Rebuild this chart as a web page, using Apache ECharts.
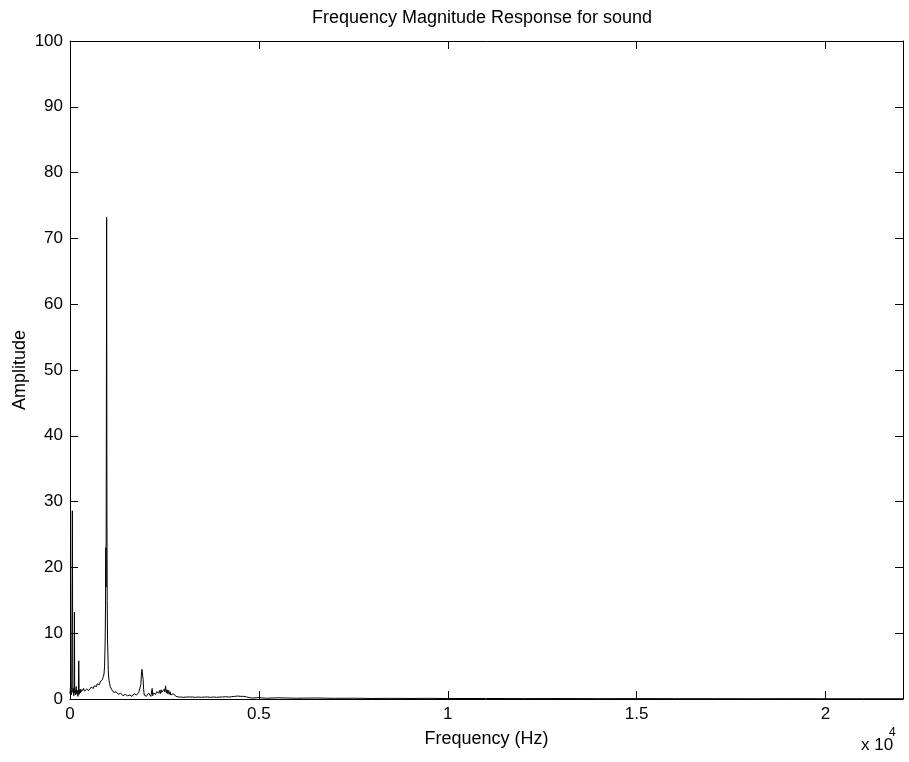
<!DOCTYPE html>
<html>
<head>
<meta charset="utf-8">
<script src="https://cdn.jsdelivr.net/npm/echarts@6/dist/echarts.min.js"></script>
<style>
html,body{margin:0;padding:0;background:#fff;}
#chart{width:909px;height:762px;}
</style>
</head>
<body>
<div id="chart"></div>
<script>
var titleText = 'Frequency Magnitude Response for sound';
var xName = 'Frequency (Hz)';
var yName = 'Amplitude';
var xTickValues = [0, 5000, 10000, 15000, 20000];
var xTickLabels = ['0', '0.5', '1', '1.5', '2'];

var freqHz = [0,15,30,45,62,75,88,100,112,118,124,135,150,165,180,195,210,222,232,242,255,270,285,300,320,340,360,380,400,420,440,460,480,500,520,540,560,580,600,620,640,660,680,700,720,740,760,780,800,820,840,860,880,900,915,930,940,948,955,962,970,977,985,993,1002,1012,1022,1035,1050,1065,1080,1095,1110,1125,1140,1160,1180,1200,1220,1240,1260,1280,1300,1320,1340,1360,1380,1400,1420,1440,1460,1480,1500,1520,1540,1560,1580,1600,1620,1640,1660,1680,1700,1720,1740,1760,1780,1800,1820,1840,1860,1875,1890,1905,1920,1935,1950,1965,1980,2000,2020,2040,2060,2080,2100,2120,2140,2160,2175,2190,2210,2230,2250,2270,2290,2310,2330,2350,2370,2390,2410,2430,2450,2470,2490,2510,2530,2550,2570,2590,2610,2630,2650,2670,2690,2710,2730,2750,2780,2810,2840,2870,2900,2930,2960,3000,3040,3080,3120,3160,3200,3240,3280,3320,3360,3400,3440,3480,3520,3560,3600,3640,3680,3720,3760,3800,3840,3880,3920,3960,4000,4040,4080,4120,4160,4200,4240,4280,4320,4360,4400,4440,4480,4520,4560,4600,4640,4680,4720,4800,5000,5200,5500,6000,6500,7000,7500,8000,8500,9000,9500,10000,11000,12000,13000,14000,15000,16000,17000,18000,19000,20000,21000,22050];

var amplitude = [0.8,1.9,0.6,1.2,28.6,1.0,1.6,0.5,2.0,13.2,0.9,1.4,0.6,1.9,0.8,1.3,0.4,1.0,5.8,0.7,1.4,0.9,1.5,1.1,1.4,1.0,1.6,1.2,1.3,1.1,1.5,1.2,1.6,1.3,1.5,1.4,1.8,1.5,1.7,1.6,2.0,1.7,2.1,1.9,2.3,2.0,2.4,2.2,2.6,2.5,2.9,3.0,3.4,3.8,5.0,8.5,14,23,17,40,73.2,30,15,9,7.3,4.5,3.5,2.8,2.3,1.9,1.7,1.5,1.6,1.2,1.3,1.0,1.2,0.9,1.1,0.8,1.0,0.7,0.9,0.6,0.9,0.6,0.8,0.5,0.8,0.5,0.7,0.4,0.7,0.5,0.8,0.4,0.6,0.5,0.7,0.4,0.6,0.5,0.8,0.5,0.7,0.6,0.9,0.7,1.0,0.9,1.3,2.2,3.8,4.5,4.3,3.0,1.4,0.6,0.3,0.9,0.4,0.7,0.5,0.9,0.6,0.8,0.4,0.7,1.6,0.5,0.9,0.6,1.0,0.7,1.1,0.8,1.2,0.9,1.3,0.8,1.4,1.0,1.3,0.9,1.5,1.1,2.0,0.9,1.4,0.8,1.3,0.7,1.1,0.6,0.9,0.5,0.8,0.5,0.7,0.4,0.6,0.3,0.5,0.3,0.4,0.25,0.5,0.3,0.45,0.3,0.5,0.3,0.4,0.25,0.45,0.3,0.4,0.25,0.4,0.3,0.45,0.3,0.4,0.25,0.4,0.3,0.35,0.25,0.35,0.3,0.4,0.3,0.5,0.35,0.4,0.3,0.45,0.35,0.55,0.4,0.6,0.45,0.65,0.4,0.6,0.4,0.55,0.3,0.2,0.15,0.2,0.12,0.18,0.12,0.15,0.1,0.12,0.08,0.1,0.08,0.1,0.07,0.08,0.06,0.07,0.05,0.06,0.05,0.05,0.04,0.05,0.04,0.04,0.04];

var seriesData = freqHz.map(function (f, i) { return [f, amplitude[i]]; });

var FONT = 'Liberation Sans';
var FS_TICK = 17;
var FS_TEXT = 18;
var chart = echarts.init(document.getElementById('chart'), null, {renderer: 'canvas'});

function xAxisCfg(pos, showLabels) {
  return {
    type: 'value', position: pos, min: 0, max: 22050, interval: 5000,
    axisLine: {show: true, onZero: false, lineStyle: {color: '#000', width: 1}},
    axisTick: {show: true, inside: true, length: 8, lineStyle: {color: '#000'}},
    axisLabel: {show: showLabels, margin: 7, color: '#000', fontFamily: FONT, fontSize: FS_TICK,
      formatter: function (v) { var i = xTickValues.indexOf(v); return i >= 0 ? xTickLabels[i] : ''; }},
    splitLine: {show: false},
    name: showLabels ? xName : '', nameLocation: 'middle', nameGap: 31,
    nameTextStyle: {color: '#000', fontFamily: FONT, fontSize: FS_TEXT}
  };
}
function yAxisCfg(pos, showLabels) {
  return {
    type: 'value', position: pos, min: 0, max: 100, interval: 10,
    axisLine: {show: true, onZero: false, lineStyle: {color: '#000', width: 1}},
    axisTick: {show: true, inside: true, length: 8, lineStyle: {color: '#000'}},
    axisLabel: {show: showLabels, margin: 7, color: '#000', fontFamily: FONT, fontSize: FS_TICK},
    splitLine: {show: false},
    name: showLabels ? yName : '', nameLocation: 'middle', nameGap: 41, nameMoveOverlap: false,
    nameTextStyle: {color: '#000', fontFamily: FONT, fontSize: FS_TEXT}
  };
}

chart.setOption({
  animation: false,
  backgroundColor: '#fff',
  title: {text: titleText, left: 477, top: 4, textAlign: 'center',
    textStyle: {color: '#000', fontFamily: FONT, fontSize: FS_TEXT, fontWeight: 'normal'}},
  grid: {left: 70, right: 6, top: 41, bottom: 63, containLabel: false, outerBoundsMode: 'none'},
  xAxis: [xAxisCfg('bottom', true), xAxisCfg('top', false)],
  yAxis: [yAxisCfg('left', true), yAxisCfg('right', false)],
  graphic: [
    {type: 'text', left: 861, top: 737, style: {text: 'x 10', fill: '#000', font: FS_TICK + 'px "' + FONT + '"'}},
    {type: 'text', left: 889, top: 727, style: {text: '4', fill: '#000', font: '12px "' + FONT + '"'}}
  ],
  series: [{
    type: 'line', xAxisIndex: 0, yAxisIndex: 0, data: seriesData,
    showSymbol: false, symbol: 'none', sampling: null,
    lineStyle: {color: '#000', width: 1}
  }]
});
</script>
</body>
</html>
